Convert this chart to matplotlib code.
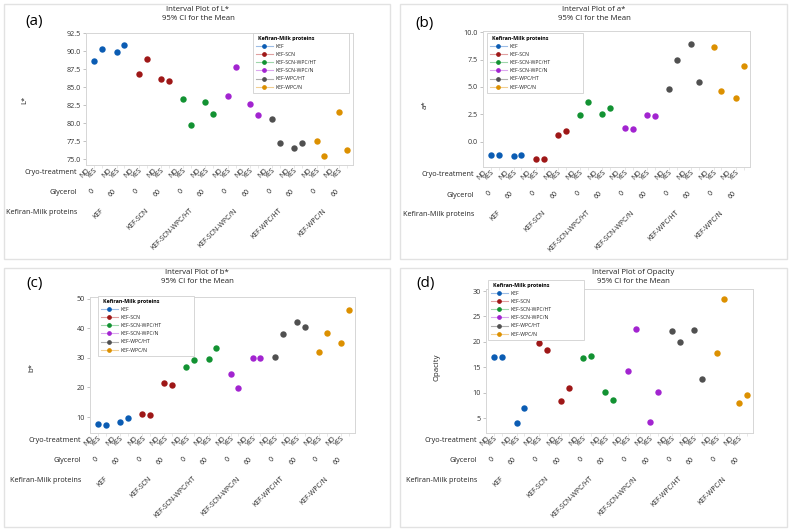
import numpy as np
import matplotlib.pyplot as plt
import matplotlib.transforms as mtransforms
from matplotlib.lines import Line2D
from matplotlib.patches import Rectangle

plt.rcParams['font.family'] = ['Open Sans', 'DejaVu Sans']

W, H = 791, 531

proteins = ["KEF", "KEF-SCN", "KEF-SCN-WPC/HT", "KEF-SCN-WPC/N", "KEF-WPC/HT", "KEF-WPC/N"]
glycerol = ["0", "60"]
cryo = ["NO", "YES"]
colors = ["#0b5cb3", "#9e1717", "#129232", "#a224d0", "#505050", "#dc9000"]
light = ["#9dbde6", "#e0a0a0", "#9fd6ab", "#dba7ef", "#b0b0b0", "#f2cf92"]

# order: protein -> glycerol (0, 60) -> cryo (NO, YES)
L_star = [88.6, 90.3, 89.9, 90.9,
          86.8, 89.0, 86.2, 85.9,
          83.4, 79.8, 83.0, 81.3,
          83.8, 87.8, 82.7, 81.1,
          80.6, 77.2, 76.5, 77.3,
          77.6, 75.4, 81.6, 76.3]
a_star = [-1.2, -1.25, -1.3, -1.25,
          -1.6, -1.6, 0.65, 1.0,
          2.4, 3.6, 2.5, 3.05,
          1.3, 1.15, 2.4, 2.35,
          4.8, 7.45, 8.95, 5.45,
          8.6, 4.65, 3.95, 6.95]
b_star = [7.5, 7.3, 8.2, 9.7,
          11.0, 10.8, 21.6, 21.0,
          26.8, 29.2, 29.5, 33.2,
          24.7, 19.9, 29.8, 29.8,
          30.4, 38.1, 42.0, 40.3,
          31.9, 38.4, 35.0, 46.1]
opacity = [17.1, 17.1, 4.1, 7.1,
           19.8, 18.5, 8.3, 10.9,
           16.8, 17.2, 10.1, 8.5,
           14.2, 22.5, 4.2, 10.2,
           22.2, 20.0, 22.4, 12.8,
           17.8, 28.4, 8.0, 9.5]

pos = np.array([(j // 2) * 2.8 + (j % 2) for j in range(24)])

fig = plt.figure(figsize=(W / 100, H / 100), dpi=100)


def fx(x):
    return x / W


def fy(y):
    return 1 - y / H


def frame(x0, y0, x1, y1, ec, lw, z):
    fig.patches.append(Rectangle((fx(x0), fy(y1)), (x1 - x0) / W, (y1 - y0) / H,
                                 transform=fig.transFigure, facecolor="white",
                                 edgecolor=ec, lw=lw, zorder=z))


# panel frames
for x0, y0, x1, y1 in [(4, 4, 390, 259), (400, 4, 787, 259), (4, 268, 390, 527), (400, 268, 787, 527)]:
    frame(x0, y0, x1, y1, "#e2e2e2", 1, -10)

panels = [
    dict(box=(86, 33, 353, 165), vals=L_star, name="L*", ylim=(74.2, 92.55),
         ticks=np.arange(75, 92.6, 2.5), fmt="{:.1f}", tag="(a)", tagxy=(34, 21),
         title=(198, 14), ylab=(25, 100), leg=(253, 33)),
    dict(box=(483, 31, 750, 167), vals=a_star, name="a*", ylim=(-2.3, 10.1),
         ticks=np.arange(0, 10.1, 2.5), fmt="{:.1f}", tag="(b)", tagxy=(425, 23),
         title=(594, 14), ylab=(425, 105), leg=(487, 33)),
    dict(box=(90, 297, 355, 433), vals=b_star, name="b*", ylim=(4.6, 50.6),
         ticks=np.arange(10, 51, 10), fmt="{:.0f}", tag="(c)", tagxy=(35, 283),
         title=(197, 277), ylab=(32, 367), leg=(98, 296)),
    dict(box=(486, 289, 753, 433), vals=opacity, name="Opacity", ylim=(2.1, 30.4),
         ticks=np.arange(5, 31, 5), fmt="{:.0f}", tag="(d)", tagxy=(426, 283),
         title=(633, 277), ylab=(437, 367), leg=(488, 280)),
]

for p in panels:
    l, t, r, b = p["box"]
    ax = fig.add_axes([fx(l), fy(b), (r - l) / W, (b - t) / H])
    vals = np.array(p["vals"])
    for g in range(6):
        ax.plot(pos[g * 4:(g + 1) * 4], vals[g * 4:(g + 1) * 4], "o", ls="none",
                color=colors[g], markersize=4.6, markeredgewidth=0)
    ax.set_xlim(-1.05, pos[-1] + 0.8)
    ax.set_ylim(*p["ylim"])
    ax.set_yticks(p["ticks"])
    ax.set_yticklabels([p["fmt"].format(v) for v in p["ticks"]])
    ax.set_xticks(pos)
    ax.set_xticklabels([])
    ax.tick_params(axis="y", length=2, width=0.5, color="#aaaaaa", labelsize=5.2,
                   labelcolor="#333333", pad=1.5)
    ax.tick_params(axis="x", length=2, width=0.5, color="#dddddd")
    for s in ax.spines.values():
        s.set_color("#d6d6d6")
        s.set_linewidth(0.7)

    # titles, labels
    fig.text(fx(p["title"][0]), fy(p["title"][1]), "Interval Plot of " + p["name"] + "\n95% CI for the Mean",
             ha="center", va="center", fontsize=5.6, color="#222222", linespacing=1.25)
    fig.text(fx(p["tagxy"][0]), fy(p["tagxy"][1]), p["tag"], ha="center", va="center", fontsize=11)
    fig.text(fx(p["ylab"][0]), fy(p["ylab"][1]), p["name"], ha="center", va="center",
             rotation=90, fontsize=5.6, color="#222222")

    # categorical rows under the axis
    tr = mtransforms.blended_transform_factory(ax.transData, fig.transFigure)
    for lab, dy in [("Cryo-treatment", 7), ("Glycerol", 28), ("Kefiran-Milk proteins", 48)]:
        fig.text(fx(l - 9), fy(b + dy), lab, ha="right", va="center", fontsize=5.2, color="#222222")
    for j, x in enumerate(pos):
        ax.text(x - 0.4, fy(b + 2), cryo[j % 2], rotation=45, ha="right", va="top",
                transform=tr, fontsize=5, color="#222222")
    for k in range(12):
        xc = k * 2.8 + 0.5
        ax.text(xc - 0.3, fy(b + 23), glycerol[k % 2], rotation=45, ha="right", va="top",
                transform=tr, fontsize=5, color="#222222")
    for g in range(6):
        xc = g * 5.6 + 1.9
        ax.text(xc - 0.5, fy(b + 42), proteins[g], rotation=45, ha="right", va="top",
                transform=tr, fontsize=5, color="#222222")

    # legend with a fixed-size box like the original
    lx, ly = p["leg"]
    frame(lx, ly, lx + 96, ly + 60, "#d0d0d0", 0.6, 5)
    handles = [Line2D([], [], color=light[g], lw=0.8, marker="o", markersize=2.4,
                      markerfacecolor=colors[g], markeredgecolor=colors[g]) for g in range(6)]
    leg = fig.legend(handles, proteins, loc="upper left", bbox_to_anchor=(fx(lx + 1), fy(ly + 1)),
                     bbox_transform=fig.transFigure, fontsize=3.7, title="Kefiran-Milk proteins",
                     title_fontproperties={"size": 3.9, "weight": "bold"}, frameon=False,
                     handlelength=3.3, handletextpad=0.6, labelspacing=0.62, borderpad=0.3,
                     borderaxespad=0)
    leg.set_zorder(6)
    for txt in leg.get_texts():
        txt.set_color("#222222")

fig.savefig("out.png", dpi=100, facecolor="white")
